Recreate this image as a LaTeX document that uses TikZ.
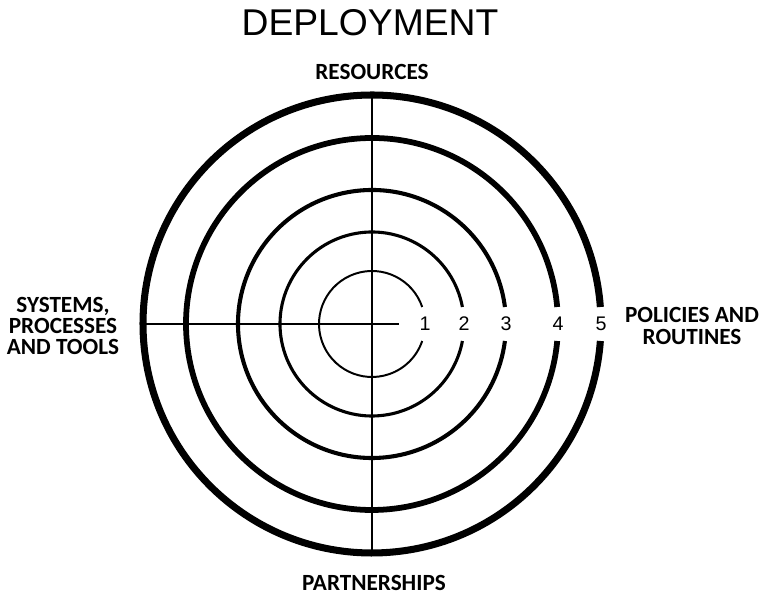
\documentclass[tikz,border=0pt]{standalone}
\usepackage{fontspec}
\setmainfont{Liberation Sans}
\newfontfamily\lblfont{Carlito}
\usepackage{tikz}

\tikzset{
  axis/.style={line width=1.4pt},
  ring/.style={line width=#1},
  lbl/.style={font=\lblfont\bfseries\fontsize{16.5}{15}\selectfont, align=center},
  num/.style={font=\fontsize{14}{14}\selectfont, inner sep=0pt}
}

\begin{document}
\begin{tikzpicture}[x=0.025cm, y=0.025cm]
      \useasboundingbox (0, 0) rectangle (765, 596);

      \coordinate (c) at (372, 272);
      \coordinate (top) at (372, 501);
      \coordinate (bot) at (372, 43);
      \coordinate (lft) at (143, 272);
      \coordinate (tip) at (399, 272);

      \node (title) at (370, 573) {\fontsize{26.5}{28}\selectfont DEPLOYMENT};
      \node[lbl] (res) at (372, 524) {RESOURCES};
      \node[lbl, inner sep=0pt] (par) at (374, 13) {PARTNERSHIPS};
      \node[lbl] (sys) at (63, 270) {SYSTEMS,\\PROCESSES\\AND TOOLS};
      \node[lbl] (pol) at (692, 270) {POLICIES AND\\ROUTINES};

      \foreach \r/\w/\n in {53/1.4/1, 92/2.2/2, 134/2.9/3, 186/4.1/4, 229/5.0/5} {
        \pgfmathsetmacro{\a}{asin(17/\r)}
        \draw[ring=\w pt] (c) ++(\a:\r) arc[start angle=\a, end angle=360-\a, radius=\r];
        \node[num] (n\n) at ([xshift=\r*0.025cm]c) {\n};
      }

      \path[axis]
      (top) edge (bot)
      (lft) edge (tip);
    \end{tikzpicture}
\end{document}
